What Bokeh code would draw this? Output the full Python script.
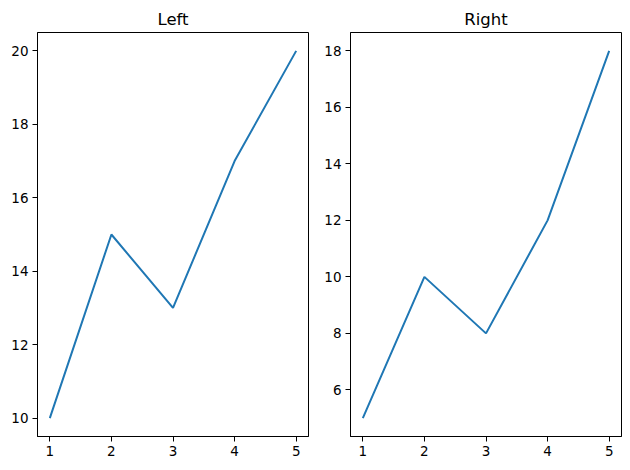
from bokeh.plotting import figure
from bokeh.layouts import row
from bokeh.models import Range1d, FixedTicker
from bokeh.embed import file_html
from bokeh.resources import INLINE

x = [1, 2, 3, 4, 5]
left_y = [10, 15, 13, 17, 20]
right_y = [5, 10, 8, 12, 18]
x_ticks = [1, 2, 3, 4, 5]
left_ticks = [10, 12, 14, 16, 18, 20]
right_ticks = [6, 8, 10, 12, 14, 16, 18]

FONT = "DejaVu Sans"


def make(title, ys, yticks, width, bl, br):
    ymin, ymax = min(ys), max(ys)
    pad = (ymax - ymin) * 0.05
    p = figure(width=width, height=470, output_backend="svg", toolbar_location=None,
               x_range=Range1d(0.8, 5.2), y_range=Range1d(ymin - pad, ymax + pad),
               min_border_left=bl, min_border_right=br, min_border_top=32, min_border_bottom=34,
               title=title)
    p.line(x, ys, line_color="#1f77b4", line_width=2)
    p.title.align = "center"
    p.title.text_font = FONT
    p.title.text_font_size = "16.5px"
    p.title.text_font_style = "normal"
    p.title.text_color = "black"
    p.title.standoff = 8
    p.title.offset = 0
    p.xgrid.visible = False
    p.ygrid.visible = False
    p.outline_line_color = "black"
    p.outline_line_alpha = 1
    p.outline_line_width = 1
    p.xaxis.ticker = FixedTicker(ticks=x_ticks)
    p.yaxis.ticker = FixedTicker(ticks=yticks)
    for ax in (p.xaxis, p.yaxis):
        ax.major_tick_out = 5
        ax.major_tick_in = 0
        ax.minor_tick_out = 0
        ax.minor_tick_in = 0
        ax.major_label_standoff = 4
        ax.major_label_text_font = FONT
        ax.major_label_text_font_size = "13.5px"
        ax.major_label_text_color = "black"
        ax.axis_line_color = "black"
        ax.major_tick_line_color = "black"
    return p


p1 = make("Left", left_y, left_ticks, 317, 37, 9)
p2 = make("Right", right_y, right_ticks, 313, 33, 9)
p = row(p1, p2)

open("out.html", "w").write(file_html(p, INLINE))
